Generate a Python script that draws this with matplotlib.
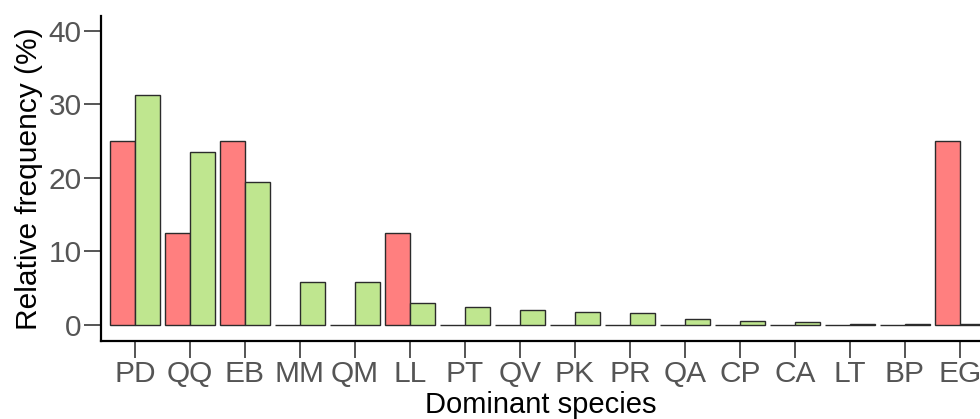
import matplotlib
matplotlib.use("Agg")
import matplotlib.pyplot as plt
import numpy as np

plt.rcParams['font.family'] = ['Liberation Sans', 'DejaVu Sans']

species = ['PD', 'QQ', 'EB', 'MM', 'QM', 'LL', 'PT', 'QV', 'PK', 'PR',
           'QA', 'CP', 'CA', 'LT', 'BP', 'EG']
freq_red = [25.0, 12.5, 25.0, 0, 0, 12.5, 0, 0, 0, 0, 0, 0, 0, 0, 0, 25.0]
freq_green = [31.3, 23.5, 19.4, 5.9, 5.9, 3.0, 2.4, 2.0, 1.7, 1.6,
              0.8, 0.55, 0.4, 0.2, 0.2, 0.1]
yticks = [0, 10, 20, 30, 40]

fig = plt.figure(figsize=(9.8, 4.19), dpi=100)
ax = fig.add_axes([101/980, 78/419, 879/980, 325/419])

x = np.arange(len(species))
w = 25/55
ax.bar(x - w/2, freq_red, width=w, color='#ff7f7f', edgecolor='#2b2b2b', linewidth=1.0)
ax.bar(x + w/2, freq_green, width=w, color='#bfe68f', edgecolor='#2b2b2b', linewidth=1.0)

ax.set_xlim(-0.618, 15.364)
ax.set_ylim(-2.18, 42.04)
ax.set_xticks(x)
ax.set_xticklabels(species)
ax.set_yticks(yticks)

for s in ['top', 'right']:
    ax.spines[s].set_visible(False)
for s in ['left', 'bottom']:
    ax.spines[s].set_linewidth(1.6)
    ax.spines[s].set_color('black')

ax.tick_params(axis='both', length=12, width=1.4, color='#555555',
               labelcolor='#555555', labelsize=21.5, pad=2)

ax.set_ylabel('Relative frequency (%)', fontsize=21.5, color='black', labelpad=4)
ax.set_xlabel('Dominant species', fontsize=21, color='black', labelpad=1.5)

fig.savefig('out.png', dpi=100)
